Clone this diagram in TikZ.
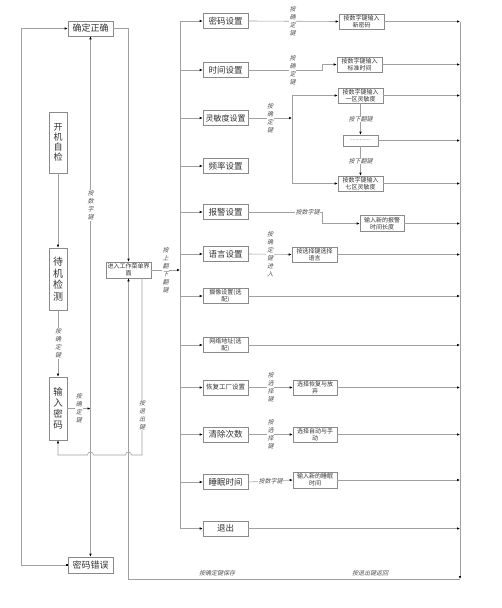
\documentclass[tikz,border=0pt]{standalone}
\usepackage{fontspec}
\setmainfont{Noto Sans CJK SC}
\newfontfamily\lblfont[FakeSlant=0.25]{Noto Sans CJK SC}
\usetikzlibrary{arrows.meta,calc}
\definecolor{ln}{HTML}{A0A0A0}
\definecolor{bd}{HTML}{8A8A8A}
\definecolor{tx}{HTML}{333333}
\begin{document}
\begin{tikzpicture}[x=1pt,y=-1pt,
  box/.style={draw=bd,line width=0.6pt,fill=white,text=tx,inner sep=0pt,align=center,
    minimum width=45pt,minimum height=15pt,font=\fontsize{8.5}{10}\selectfont},
  sbox/.style={box,font=\fontsize{6}{7}\selectfont},
  vbox/.style={box,minimum width=18pt,minimum height=62pt,font=\fontsize{9.5}{11}\selectfont},
  lbl/.style={font=\lblfont\fontsize{6}{8}\selectfont,text=tx!85,fill=white,inner sep=0.6pt,align=center},
  conn/.style={draw=ln,line width=0.6pt},
  arr/.style={conn,-{Latex[length=3pt,width=2.6pt,color=black]}},
  sarr/.style={conn,{Square[length=1.8pt,width=1.8pt,color=black]}-{Latex[length=3pt,width=2.6pt,color=black]}}]
\useasboundingbox (0,0) rectangle (502,608);

% ---- left part ----
\node[box,font=\fontsize{9}{10}\selectfont] (ok) at (90.5,28.5) {确定正确};
\node[box,font=\fontsize{9}{10}\selectfont,minimum height=16pt] (err) at (90.5,565) {密码错误};
\node[vbox,minimum height=61pt,font=\fontsize{9}{10}\selectfont] (self) at (58,142.5) {开\\机\\自\\检};
\node[vbox,font=\fontsize{10}{11.5}\selectfont] (standby) at (58,279) {待\\机\\检\\测};
\node[vbox,minimum height=63pt] (pwd) at (58,408.5) {输\\入\\密\\码};
\node[box,font=\fontsize{6}{7}\selectfont,minimum height=16pt] (enter) at (128.5,270) {进入工作菜单界\\面};

\coordinate (j) at (ok.south |- pwd.east);
\coordinate (lx) at (21,0);
\coordinate (jy) at (0,455);
\coordinate (by) at (0,579);
\coordinate (lb) at (180,0);
\coordinate (rb) at (460,0);

\draw[arr] (self.south) -- (standby.north);
\draw[arr] (standby.south) -- node[lbl]{按\\确\\定\\键} (pwd.north);
\draw[arr] (pwd.east) -- node[lbl,pos=0.5]{按\\确\\定\\键} (j);
\draw[arr] (j) -- node[lbl,pos=0.545]{按\\数\\字\\键} (ok.south);
\draw[arr] (j) -- (err.north);
\draw[sarr] (err.west) -- (err.west -| lx) -- (ok.west -| lx) -- (ok.west);
\draw[arr] (ok.east) -- (ok.east -| enter.north) -- (enter.north);
\draw[arr] ($(enter.south)+(13.5,0)$) -- ($(enter.south |- jy)+(13.5,0)$)
   -- ($(enter.south |- jy)+(3,0)$) .. controls ($(enter.south |- jy)+(3,-4)$) and ($(enter.south |- jy)+(-3,-4)$) .. ($(enter.south |- jy)+(-3,0)$)
   -- ($(j |- jy)+(3,0)$) .. controls ($(j |- jy)+(3,-4)$) and ($(j |- jy)+(-3,-4)$) .. ($(j |- jy)+(-3,0)$)
   -- (pwd.south |- jy) -- (pwd.south);
\node[lbl] at (142,415) {按\\退\\出\\键};

% ---- menu items ----
\node[box] (m1) at (225.5,21) {密码设置};
\node[box] (m2) at (225.5,70) {时间设置};
\node[box,font=\fontsize{8}{9}\selectfont] (m3) at (225.5,118) {灵敏度设置};
\node[box] (m4) at (225.5,166) {频率设置};
\node[box] (m5) at (225.5,212) {报警设置};
\node[box] (m6) at (225.5,254) {语言设置};
\node[sbox] (m7) at (225.5,296) {摄像设置(选\\配)};
\node[sbox] (m8) at (225.5,345) {网络地址(选\\配)};
\node[box,font=\fontsize{6.5}{8}\selectfont] (m9) at (225.5,387.5) {恢复工厂设置};
\node[box] (m10) at (225.5,434.5) {清除次数};
\node[box] (m11) at (225.5,482) {睡眠时间};
\node[box] (m12) at (225.5,528.5) {退出};

\draw[arr] (enter.east) -- node[lbl,pos=0.5]{按\\上\\翻\\下\\翻\\键} (enter.east -| lb);
\draw[conn] (m1.west -| lb) -- (m12.west -| lb);
\foreach \m in {m1,m2,m3,m4,m5,m6,m7,m8,m9,m10,m11,m12}
  \draw[arr] (\m.west -| lb) -- (\m.west);

% ---- second column ----
\node[sbox] (p1) at (361.5,21.5) {按数字键输入\\新密码};
\node[sbox] (p2) at (359.5,64.5) {按数字键输入\\标准时间};
\node[sbox] (s1) at (360.5,95.5) {按数字键输入\\一区灵敏度};
\node[sbox,minimum width=35pt,minimum height=11pt,font=\fontsize{5}{6}\selectfont] (sd) at (360.5,140.5) {...............};
\node[sbox] (s7) at (360.5,183.5) {按数字键输入\\七区灵敏度};
\node[sbox,minimum width=44pt,minimum height=16pt] (a1) at (382,223.5) {输入新的报警\\时间长度};
\node[sbox] (l1) at (314.5,254.5) {按选择键选择\\语言};
\node[sbox,minimum width=44pt] (r1) at (315,387.5) {选择恢复与放\\弃};
\node[sbox,minimum width=44pt] (c1) at (315,434.5) {选择自动与手\\动};
\node[sbox,minimum width=44pt,minimum height=16pt] (z1) at (315,480) {输入新的睡眠\\时间};

\draw[arr] (m1.east) -- node[lbl,pos=0.49]{按\\确\\定\\键} (p1.west);
\draw[arr] (m2.east) -- node[lbl,pos=0.6]{按\\确\\定\\键} ++(74,0) |- (p2.west);
\coordinate (sj) at (292,118);
\draw[arr] (m3.east) -- node[lbl]{按\\确\\定\\键} (sj);
\draw[arr] (sj) |- (s1.west);
\draw[arr] (sj) |- (s7.west);
\draw[arr] (s1.south) -- node[lbl]{按下翻键} (sd.north);
\draw[arr] (sd.south) -- node[lbl]{按下翻键} (s7.north);
\draw[arr] (m5.east) -- node[lbl,pos=0.8]{按数字键} ++(74,0) |- (a1.west);
\draw[arr] (m6.east) -- node[lbl,pos=0.5]{按\\确\\定\\键\\进\\入} (l1.west);
\draw[arr] (m9.east) -- node[lbl,pos=0.5]{按\\选\\择\\键} (r1.west);
\draw[arr] (m10.east) -- node[lbl,pos=0.5]{按\\选\\择\\键} (c1.west);
\draw[arr] (m11.east) -- node[lbl,pos=0.5]{按数字键} (z1.west);

% ---- right bus ----
\foreach \m in {p1,p2,s1,sd,s7,a1,l1,m7,m8,r1,c1,z1,m12}
  \draw[arr] (\m.east) -- (\m.east -| rb);
\draw[arr] (p1.east -| rb) -- (rb |- by);
\draw[arr] (rb |- by) -- (enter.south |- by) -- (enter.south);
\node[font=\lblfont\fontsize{6}{8}\selectfont,text=tx!85] at (217,573) {按确定键保存};
\node[font=\lblfont\fontsize{6}{8}\selectfont,text=tx!85] at (370,573) {按退出键返回};
\end{tikzpicture}
\end{document}
